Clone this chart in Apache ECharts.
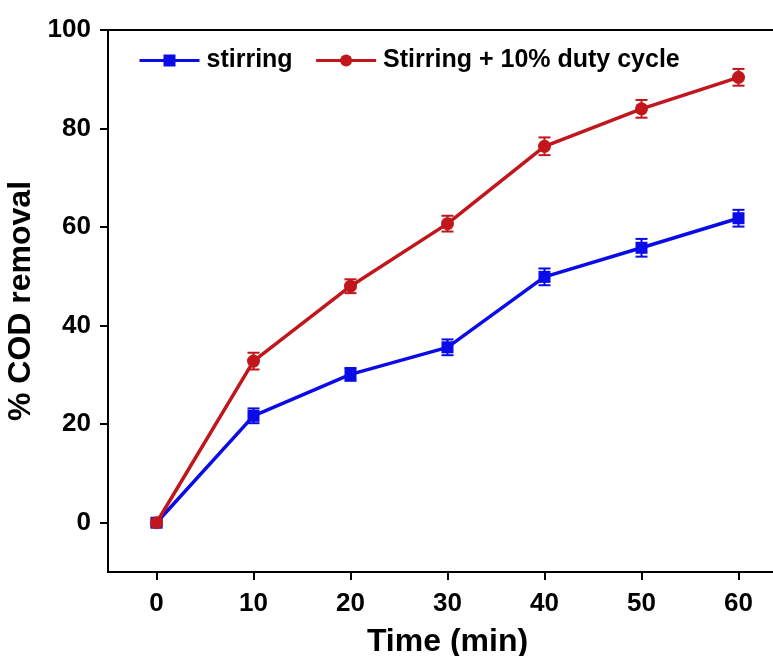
<!DOCTYPE html>
<html>
<head>
<meta charset="utf-8">
<script src="https://cdn.jsdelivr.net/npm/echarts@6/dist/echarts.min.js"></script>
<style>
  html, body { margin: 0; padding: 0; background: #fff; }
  #chart { width: 773px; height: 656px; }
</style>
</head>
<body>
<div id="chart"></div>
<script>
// COD removal over time, two treatment conditions
const timeMin = [0, 10, 20, 30, 40, 50, 60];
const stirring = [0, 21.7, 30.1, 35.6, 49.9, 55.8, 61.8];
const stirringErr = [0.6, 1.5, 1.3, 1.6, 1.7, 1.8, 1.7];
const dutyCycle = [0, 32.8, 48.0, 60.7, 76.4, 84.0, 90.4];
const dutyCycleErr = [0.6, 1.7, 1.4, 1.6, 1.8, 1.8, 1.7];
const xTicks = [0, 10, 20, 30, 40, 50, 60];
const yTicks = [0, 20, 40, 60, 80, 100];
const seriesNames = ['stirring', 'Stirring + 10% duty cycle'];

const BLUE = '#0b0be8';
const RED = '#c0161c';
const FONT = '"Liberation Sans", Arial, sans-serif';

function pairs(xs, ys) { return xs.map((x, i) => [x, ys[i]]); }
function errRows(xs, ys, es) { return xs.map((x, i) => [x, ys[i] - es[i], ys[i] + es[i]]); }

function errorBar(color) {
  return function (params, api) {
    const x = api.value(0);
    const lo = api.coord([x, api.value(1)]);
    const hi = api.coord([x, api.value(2)]);
    const half = 6;
    const style = { stroke: color, lineWidth: 2 };
    return {
      type: 'group',
      children: [
        { type: 'line', shape: { x1: lo[0], y1: lo[1], x2: hi[0], y2: hi[1] }, style },
        { type: 'line', shape: { x1: lo[0] - half, y1: lo[1], x2: lo[0] + half, y2: lo[1] }, style },
        { type: 'line', shape: { x1: hi[0] - half, y1: hi[1], x2: hi[0] + half, y2: hi[1] }, style }
      ]
    };
  };
}

const chart = echarts.init(document.getElementById('chart'), null, { renderer: 'canvas' });

const axisLine = { show: true, onZero: false, lineStyle: { color: '#000', width: 2 } };
const tickStyle = { lineStyle: { color: '#000', width: 2 }, length: 8 };
const labelFont = { color: '#000', fontFamily: FONT, fontWeight: 'bold', fontSize: 26 };
const titleFont = { color: '#000', fontFamily: FONT, fontWeight: 'bold', fontSize: 32 };

chart.setOption({
  backgroundColor: '#fff',
  animation: false,
  grid: {
    left: 108, top: 30, width: 679, height: 542,
    outerBoundsMode: 'none', containLabel: false,
    show: true, borderColor: '#000', borderWidth: 2, backgroundColor: 'transparent'
  },
  legend: {
    data: seriesNames,
    left: 133, top: 43,
    itemWidth: 60, itemHeight: 15, itemGap: 22,
    lineStyle: { width: 3 },
    textStyle: { color: '#000', fontFamily: FONT, fontWeight: 'bold', fontSize: 25, padding: [0, 0, 0, 2] }
  },
  xAxis: {
    type: 'value', min: -5, max: 65,
    name: 'Time (min)', nameLocation: 'middle', nameGap: 54,
    nameTextStyle: titleFont,
    axisLine,
    axisTick: Object.assign({ show: true, inside: false, customValues: xTicks }, tickStyle),
    axisLabel: Object.assign({ customValues: xTicks, margin: 19 }, labelFont),
    splitLine: { show: false }
  },
  yAxis: {
    type: 'value', min: -10, max: 100,
    name: '% COD removal', nameLocation: 'middle', nameGap: 62,
    nameTextStyle: titleFont,
    axisLine,
    axisTick: Object.assign({ show: true, inside: false, customValues: yTicks }, tickStyle),
    axisLabel: Object.assign({ customValues: yTicks, margin: 17 }, labelFont),
    splitLine: { show: false }
  },
  series: [
    {
      name: seriesNames[0], type: 'line', data: pairs(timeMin, stirring),
      symbol: 'rect', symbolSize: 12,
      lineStyle: { color: BLUE, width: 3.5 }, itemStyle: { color: BLUE }, z: 3
    },
    {
      name: seriesNames[1], type: 'line', data: pairs(timeMin, dutyCycle),
      symbol: 'circle', symbolSize: 13,
      lineStyle: { color: RED, width: 3.5 }, itemStyle: { color: RED }, z: 4
    },
    {
      type: 'custom', data: errRows(timeMin, stirring, stirringErr),
      renderItem: errorBar(BLUE), encode: { x: 0, y: [1, 2] }, z: 3, silent: true
    },
    {
      type: 'custom', data: errRows(timeMin, dutyCycle, dutyCycleErr),
      renderItem: errorBar(RED), encode: { x: 0, y: [1, 2] }, z: 4, silent: true
    }
  ]
});
</script>
</body>
</html>
